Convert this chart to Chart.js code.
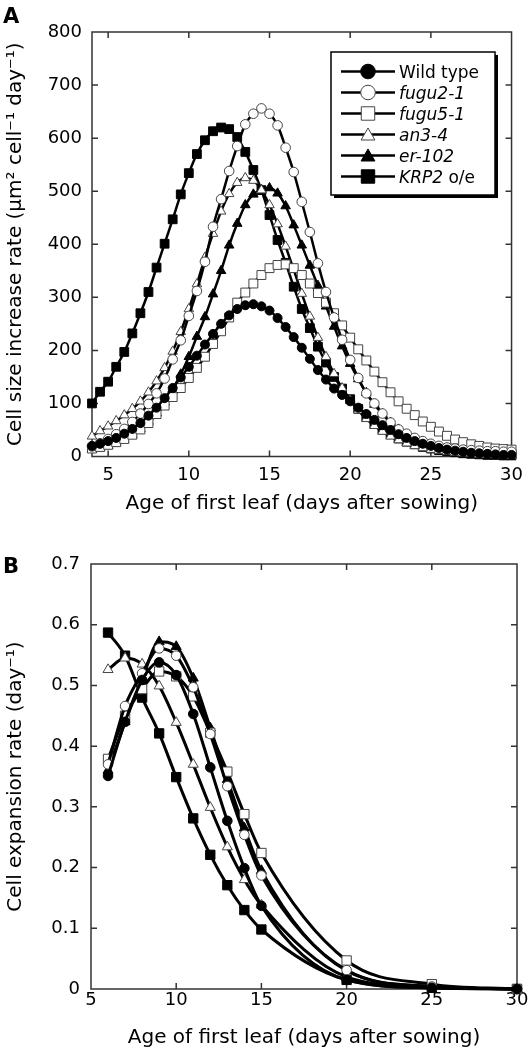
<!DOCTYPE html>
<html lang="en">
<head>
<meta charset="UTF-8">
<title>Cell size increase rate / cell expansion rate</title>
<script src="https://cdn.jsdelivr.net/npm/chart.js"></script>
<style>
    body { margin: 0; background: #fff; width: 531px; height: 1055px; overflow: hidden; }
    canvas { display: block; }
</style>
</head>
<body>
<canvas id="grafico_a" width="531" height="520"></canvas>
<canvas id="grafico_b" width="531" height="535"></canvas>
<script>
// ---- painel A : cell size increase rate (um2 cell-1 day-1) ----
const diasA = [4, 4.5, 5, 5.5, 6, 6.5, 7, 7.5, 8, 8.5, 9, 9.5, 10, 10.5, 11, 11.5, 12, 12.5, 13, 13.5,
    14, 14.5, 15, 15.5, 16, 16.5, 17, 17.5, 18, 18.5, 19, 19.5, 20, 20.5, 21, 21.5, 22, 22.5, 23, 23.5,
    24, 24.5, 25, 25.5, 26, 26.5, 27, 27.5, 28, 28.5, 29, 29.5, 30];
const wildA = [20, 24, 29, 35, 43, 52, 63, 77, 92, 110, 129, 149, 169, 190, 211, 231, 250, 266, 278, 285,
    287, 283, 275, 261, 244, 225, 205, 184, 163, 145, 128, 116, 104, 92, 80, 69, 59, 50, 42, 35,
    29, 24, 20, 16, 13, 11, 9, 7, 6, 5, 4, 3, 3];
const fugu2A = [19, 25, 33, 42, 52, 65, 81, 99, 119, 147, 183, 219, 265, 312, 367, 433, 485, 538, 585, 626,
    646, 656, 646, 624, 582, 536, 480, 423, 364, 310, 262, 220, 182, 148, 119, 100, 81, 64, 51, 43,
    35, 29, 24, 20, 17, 15, 13, 12, 11, 10, 10, 9, 9];
const fugu5A = [15, 18, 22, 27, 33, 41, 51, 63, 80, 96, 112, 129, 148, 167, 188, 212, 236, 262, 290, 309,
    326, 342, 355, 361, 362, 355, 342, 326, 308, 290, 270, 247, 224, 202, 181, 160, 140, 121, 104, 90,
    78, 66, 56, 47, 39, 32, 27, 23, 20, 17, 15, 14, 13];
const an3A = [38, 48, 57, 67, 78, 90, 104, 121, 142, 167, 198, 235, 278, 325, 375, 420, 462, 495, 516, 525,
    520, 502, 474, 438, 396, 352, 307, 264, 224, 188, 156, 129, 106, 87, 71, 58, 47, 38, 31, 25,
    20, 16, 13, 11, 9, 7, 6, 5, 4, 4, 3, 3, 2];
const er102A = [13, 16, 20, 25, 32, 41, 52, 66, 82, 102, 127, 155, 188, 226, 263, 306, 350, 398, 439, 474,
    494, 503, 506, 496, 472, 436, 398, 360, 322, 283, 245, 208, 175, 146, 120, 98, 80, 64, 51, 41,
    33, 26, 21, 17, 13, 11, 9, 7, 6, 5, 4, 3, 3];
const krp2A = [100, 122, 141, 169, 197, 232, 270, 310, 356, 401, 447, 494, 534, 570, 596, 613, 620, 617, 602, 574,
    540, 502, 455, 408, 365, 320, 278, 242, 207, 177, 150, 128, 108, 90, 75, 62, 51, 42, 34, 28,
    23, 18, 15, 12, 10, 8, 6, 5, 4, 3, 3, 2, 2];
const xTicksA = [5, 10, 15, 20, 25, 30];
const yTicksA = [0, 100, 200, 300, 400, 500, 600, 700, 800];

// ---- painel B : cell expansion rate (day-1) ----
const diasB = [6, 7, 8, 9, 10, 11, 12, 13, 14, 15, 20, 25, 30];
const wildB = [0.351, 0.44, 0.509, 0.538, 0.517, 0.453, 0.365, 0.277, 0.199, 0.137, 0.015, 0.002, 0];
const fugu2B = [0.37, 0.466, 0.52, 0.561, 0.549, 0.497, 0.42, 0.334, 0.254, 0.187, 0.031, 0.004, 0];
const fugu5B = [0.379, 0.45, 0.494, 0.523, 0.515, 0.482, 0.422, 0.358, 0.288, 0.224, 0.047, 0.008, 0];
const an3B = [0.526, 0.545, 0.535, 0.499, 0.439, 0.37, 0.299, 0.234, 0.18, 0.138, 0.02, 0.003, 0];
const er102B = [0.36, 0.44, 0.51, 0.572, 0.564, 0.512, 0.43, 0.345, 0.265, 0.195, 0.03, 0.004, 0];
const krp2B = [0.587, 0.549, 0.48, 0.421, 0.349, 0.281, 0.221, 0.171, 0.13, 0.098, 0.015, 0.002, 0];
const xTicksB = [5, 10, 15, 20, 25, 30];
const yTicksB = [0, 0.1, 0.2, 0.3, 0.4, 0.5, 0.6, 0.7];

const nomes = ['Wild type', 'fugu2-1', 'fugu5-1', 'an3-4', 'er-102', 'KRP2 o/e'];
// legend pieces: [text, italic]
const legendaTextos = [
    [['Wild type', false]],
    [['fugu2-1', true]],
    [['fugu5-1', true]],
    [['an3-4', true]],
    [['er-102', true]],
    [['KRP2', true], [' o/e', false]]
];

Chart.defaults.font.family = "'DejaVu Sans', sans-serif";
Chart.defaults.color = '#000';

function serie(label, xs, ys, estilo, cheio, raio, largura) {
    return {
        label: label,
        data: xs.map(function (x, i) { return { x: x, y: ys[i] }; }),
        borderColor: '#000',
        borderWidth: largura,
        pointStyle: estilo,
        pointRadius: raio,
        pointBackgroundColor: cheio ? '#000' : '#fff',
        pointBorderColor: cheio ? '#000' : '#444',
        pointBorderWidth: 1,
        cubicInterpolationMode: 'monotone',
        clip: false
    };
}

// box round the plot with ticks pointing inwards
const moldura = {
    id: 'moldura',
    beforeDatasetsDraw(chart) {
        const ctx = chart.ctx, a = chart.chartArea, x = chart.scales.x, y = chart.scales.y;
        ctx.save();
        ctx.strokeStyle = '#333';
        ctx.lineWidth = 1.5;
        ctx.strokeRect(a.left, a.top, a.right - a.left, a.bottom - a.top);
        ctx.beginPath();
        x.ticks.forEach(function (t) {
            const px = x.getPixelForValue(t.value);
            if (px <= a.left + 1 || px >= a.right - 1) return;
            ctx.moveTo(px, a.bottom); ctx.lineTo(px, a.bottom - 6);
            ctx.moveTo(px, a.top); ctx.lineTo(px, a.top + 6);
        });
        y.ticks.forEach(function (t) {
            const py = y.getPixelForValue(t.value);
            if (py <= a.top + 1 || py >= a.bottom - 1) return;
            ctx.moveTo(a.left, py); ctx.lineTo(a.left + 6, py);
            ctx.moveTo(a.right, py); ctx.lineTo(a.right - 6, py);
        });
        ctx.stroke();
        ctx.restore();
    }
};

// panel letter (A / B)
const letra = {
    id: 'letra',
    afterDraw(chart, args, opts) {
        const ctx = chart.ctx;
        ctx.save();
        ctx.font = "bold 21px 'DejaVu Sans'";
        ctx.fillStyle = '#000';
        ctx.textBaseline = 'alphabetic';
        ctx.fillText(opts.texto, 3, opts.y);
        ctx.restore();
    }
};

// framed legend with drop shadow (panel A)
const legendaCaixa = {
    id: 'legendaCaixa',
    afterDraw(chart, args, opts) {
        if (!opts.mostrar) return;
        const ctx = chart.ctx;
        const bx = 331, by = 52, bw = 164, bh = 143;
        ctx.save();
        ctx.fillStyle = '#000';
        ctx.fillRect(bx + 3, by + 3, bw, bh);
        ctx.fillStyle = '#fff';
        ctx.fillRect(bx, by, bw, bh);
        ctx.strokeStyle = '#000';
        ctx.lineWidth = 1.5;
        ctx.strokeRect(bx, by, bw, bh);
        chart.data.datasets.forEach(function (ds, i) {
            const cy = 71.5 + i * 21;
            ctx.strokeStyle = '#000';
            ctx.lineWidth = 2.5;
            ctx.beginPath();
            ctx.moveTo(341, cy); ctx.lineTo(395, cy);
            ctx.stroke();
            ctx.fillStyle = ds.pointBackgroundColor;
            ctx.strokeStyle = ds.pointBorderColor;
            ctx.lineWidth = 1;
            const raio = ds.pointStyle === 'rect' ? 9.5 : (ds.pointStyle === 'triangle' ? 8 : 7.3);
            Chart.helpers.drawPoint(ctx, { pointStyle: ds.pointStyle, radius: raio, borderWidth: 1, rotation: 0 }, 368, ds.pointStyle === 'triangle' ? cy + 1.5 : cy);
            let tx = 399;
            ctx.fillStyle = '#000';
            ctx.textBaseline = 'alphabetic';
            legendaTextos[i].forEach(function (p) {
                ctx.font = (p[1] ? 'italic ' : '') + "17px 'DejaVu Sans'";
                ctx.fillText(p[0], tx, cy + 6);
                tx += ctx.measureText(p[0]).width;
            });
        });
        ctx.restore();
    }
};

function eixos(xmin, xmax, xt, ymin, ymax, yt, alturaX, larguraY, padX, padY, titY, titPadBottom) {
    return {
        x: {
            type: 'linear', min: xmin, max: xmax,
            afterBuildTicks: function (s) { s.ticks = xt.map(function (v) { return { value: v }; }); },
            afterFit: function (s) { s.height = alturaX; },
            grid: { display: false, drawTicks: false },
            border: { display: false },
            ticks: { font: { size: 18 }, color: '#000', padding: padX, autoSkip: false, maxRotation: 0 },
            title: { display: true, text: 'Age of first leaf (days after sowing)', font: { size: 20 }, color: '#000', padding: { top: 0, bottom: titPadBottom } }
        },
        y: {
            type: 'linear', min: ymin, max: ymax,
            afterBuildTicks: function (s) { s.ticks = yt.map(function (v) { return { value: v }; }); },
            afterFit: function (s) { s.width = larguraY; },
            grid: { display: false, drawTicks: false },
            border: { display: false },
            ticks: { font: { size: 18 }, color: '#000', padding: padY, autoSkip: false },
            title: { display: true, text: titY, font: { size: 20 }, color: '#000', padding: { top: 4, bottom: 0 } }
        }
    };
}

new Chart(document.getElementById('grafico_a'), {
    type: 'line',
    data: {
        datasets: [
            serie(nomes[0], diasA, wildA, 'circle', true, 4.5, 2.5),
            serie(nomes[1], diasA, fugu2A, 'circle', false, 4.8, 2.5),
            serie(nomes[2], diasA, fugu5A, 'rect', false, 6.3, 2.5),
            serie(nomes[3], diasA, an3A, 'triangle', false, 5.5, 2.5),
            serie(nomes[4], diasA, er102A, 'triangle', true, 5.5, 2.5),
            serie(nomes[5], diasA, krp2A, 'rect', true, 6.2, 2.5)
        ]
    },
    options: {
        responsive: false,
        animation: false,
        devicePixelRatio: 1,
        layout: { padding: { top: 32, right: 14, left: 0, bottom: 0 } },
        plugins: {
            legend: { display: false },
            tooltip: { enabled: false },
            letra: { texto: 'A', y: 23 },
            legendaCaixa: { mostrar: true }
        },
        scales: eixos(4, 30, xTicksA, 0, 800, yTicksA, 63.5, 92, 8, 10,
            'Cell size increase rate (\u03bcm\u00b2 cell\u207b\u00b9 day\u207b\u00b9)', 4)
    },
    plugins: [moldura, letra, legendaCaixa]
});

new Chart(document.getElementById('grafico_b'), {
    type: 'line',
    data: {
        datasets: [
            serie(nomes[0], diasB, wildB, 'circle', true, 4.8, 3),
            serie(nomes[1], diasB, fugu2B, 'circle', false, 4.8, 3),
            serie(nomes[2], diasB, fugu5B, 'rect', false, 6.6, 3),
            serie(nomes[3], diasB, an3B, 'triangle', false, 5.8, 3),
            serie(nomes[4], diasB, er102B, 'triangle', true, 5.8, 3),
            serie(nomes[5], diasB, krp2B, 'rect', true, 6.6, 3)
        ]
    },
    options: {
        responsive: false,
        animation: false,
        devicePixelRatio: 1,
        layout: { padding: { top: 44, right: 14, left: 0, bottom: 0 } },
        plugins: {
            legend: { display: false },
            tooltip: { enabled: false },
            letra: { texto: 'B', y: 53 },
            legendaCaixa: { mostrar: false }
        },
        scales: eixos(5, 30, xTicksB, 0, 0.7, yTicksB, 66, 91, 1, 11,
            'Cell expansion rate (day\u207b\u00b9)', 5)
    },
    plugins: [moldura, letra, legendaCaixa]
});
</script>
</body>
</html>
